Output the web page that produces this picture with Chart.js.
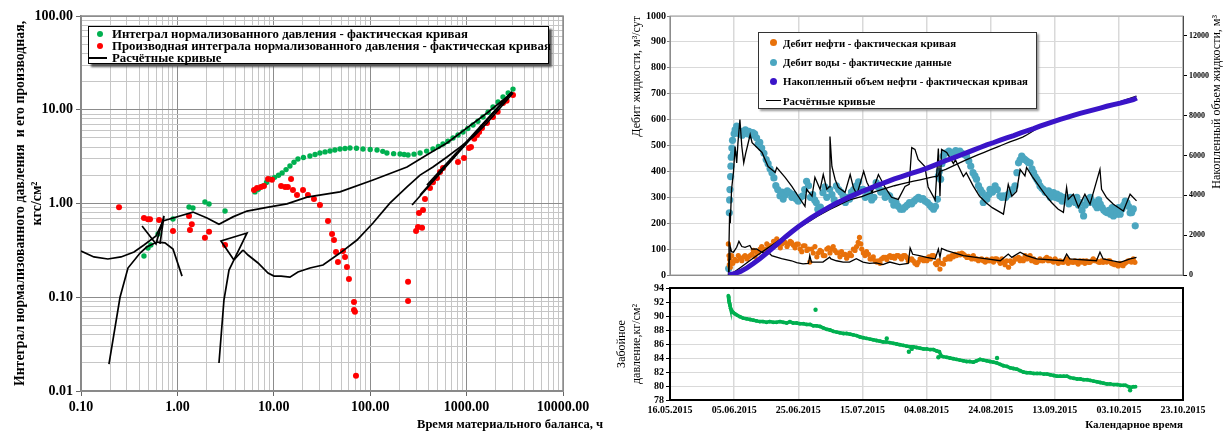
<!DOCTYPE html>
<html>
<head>
<meta charset="utf-8">
<script src="https://cdn.jsdelivr.net/npm/chart.js@4.4.1/dist/chart.umd.min.js"></script>
<style>
  body { margin:0; background:#fff; width:1227px; height:432px; overflow:hidden; position:relative; font-family:"Liberation Serif", serif; }
  canvas { position:absolute; }
  #c1 { left:0; top:0; }
  #c2 { left:610px; top:0; }
  #c3 { left:610px; top:280px; }
  .lg { position:absolute; background:#fff; border:1px solid #000; font-weight:bold; color:#000; box-sizing:border-box; }
  .lg .row { display:flex; align-items:center; white-space:nowrap; }
  .lg .mk { display:inline-block; flex:none; position:relative; height:100%; }
  .lg i { position:absolute; top:50%; display:block; }
  #lg1 { left:88px; top:26px; width:461px; height:38px; font-size:12.8px; padding-top:1px; box-shadow:3px 3px 2px #555; }
  #lg1 .row { height:12px; }
  #lg1 .mk { width:23px; }
  #lg1 i.dot { width:6px; height:6px; border-radius:50%; left:8px; margin-top:-3px; }
  #lg1 i.ln { width:19px; height:2px; left:-1px; margin-top:-1px; }
  #lg2 { left:758px; top:32px; width:279px; height:77px; font-size:10.8px; border-color:#333; box-shadow:2px 2px 2px #999; }
  #lg2 .row { height:19.4px; }
  #lg2 .mk { width:24px; }
  #lg2 i.dot { width:7px; height:7px; border-radius:50%; left:11px; margin-top:-3.5px; }
  #lg2 i.ln { width:15px; height:1.5px; left:7px; margin-top:-1px; }
</style>
</head>
<body>
<canvas id="c1" width="610" height="432"></canvas>
<canvas id="c2" width="617" height="282"></canvas>
<canvas id="c3" width="617" height="152"></canvas>
<div class="lg" id="lg1"></div>
<div class="lg" id="lg2"></div>
<script>
// ---------- left chart: log-log, [time h, value] ----------
var xDecades = [0.1, 1, 10, 100, 1000, 10000]
var yDecades = [0.01, 0.1, 1, 10, 100]

var integralPts = [[0.45,0.275],[0.495,0.335],[0.53,0.361],[0.63,0.473],[0.90,0.684],[1.32,0.918],[1.45,0.896],[1.93,1.037],[2.13,0.988],[3.12,0.832],
  [6.38,1.33],[6.9,1.42],[7.73,1.54],[8.4,1.68],[9.14,1.83],[10.2,1.9],[11.2,2.0],[12.2,2.12],[13.4,2.3],[14.7,2.51],[16.2,2.75],[17.8,2.98],[20.3,3.1],[23.7,3.21],
  [26.8,3.33],[30.1,3.46],[34,3.55],[38.3,3.63],[43,3.72],[48.6,3.81],[54.8,3.86],[61.7,3.91],[72,3.88],[84.2,3.81],[100,3.77],[117.7,3.72],[135,3.6],[149,3.46],
  [175,3.4],[204,3.37],[225,3.33],[247,3.29],[285,3.36],[329,3.46],[385,3.62],[448,3.81],[510,4.05],[569,4.31],[640,4.62],[723,5.0],[815,5.38],[918,5.79],
  [1030,6.3],[1165,6.88],[1310,7.55],[1479,8.37],[1670,9.4],[1879,10.7],[2120,12.1],[2387,13.7],[2700,15.1],[3030,16.6]]

var derivPts = [[0.248,0.91],[0.45,0.70],[0.495,0.68],[0.52,0.68],[0.645,0.667],[0.90,0.51],[1.32,0.736],[1.41,0.60],[1.35,0.52],[2.13,0.50],[1.93,0.43],[3.12,0.36],
  [6.23,1.39],[6.69,1.46],[7.36,1.50],[7.91,1.54],[8.71,1.83],[9.58,1.79],[11.9,1.54],[13.1,1.50],[14.0,1.50],[15.1,1.83],[15.8,1.39],[17.4,1.23],[20.1,1.39],
  [22.6,1.23],[26.1,1.12],[30.1,0.965],[36.5,0.65],[40.2,0.473],[42.1,0.408],[44.2,0.304],[52.2,0.311],[46.3,0.238],[54.8,0.269],[57.4,0.21],[60.2,0.157],
  [67.9,0.089],[67.9,0.073],[69.5,0.070],[71.2,0.0145],
  [247,0.146],[247,0.091],[299,0.51],[313,0.56],[345,0.55],[321,0.79],[353,0.85],[370,1.12],[417,1.46],[448,1.69],[493,1.87],[530,2.17],[569,2.39],
  [814,2.77],[940,3.06],[1059,3.91],[1111,4.0],[1200,4.9],[1282,5.38],[1350,5.8],[1445,6.4],[1629,7.22],[1879,8.37],[2100,9.5],[2387,11.8],[2600,12.5],[3030,14.4]]

// computed curves
var calcA = [[0.1,0.311],[0.136,0.269],[0.19,0.256],[0.26,0.269],[0.355,0.304],[0.45,0.361],[0.6,0.45],[0.71,0.65],[0.9,0.70],[1.45,0.81],[2.03,0.70],[2.7,0.60],
  [3.77,0.72],[5.27,0.83],[8.5,0.91],[13.7,0.99],[22.1,1.17],[48.6,1.33],[107,1.78],[241,2.45],[417,3.46],[626,4.42],[1009,6.4],[1629,9.24],[2624,13.7],[2960,15.5]]
var calcB = [[0.195,0.0194],[0.254,0.10],[0.307,0.205],[0.41,0.296],[0.48,0.343],[0.614,0.388],[0.743,0.38],[0.90,0.327],[1.117,0.168]]
var calcC = [[0.43,0.575],[0.60,0.37],[0.726,0.736],[0.66,0.37]]
var calcD = [[2.70,0.0199],[3.04,0.0935],[3.43,0.195],[3.86,0.25],[4.79,0.319]]
var calcT = [[3.86,0.25],[2.83,0.398],[5.27,0.484],[3.86,0.25]]
var calcE = [[4.79,0.319],[5.4,0.282],[6.86,0.232],[8.71,0.181],[10.05,0.168],[11.9,0.168],[14.7,0.164],[17.8,0.186],[23.7,0.205],[32.4,0.221],[48.6,0.296],
  [73,0.408],[107,0.62],[160,1.01],[241,1.50],[329,2.01],[448,2.45],[626,3.13],[855,4.0],[1165,5.12],[1629,7.22],[2624,12.7],[3030,15.1]]
var calcF1 = [[272,0.964],[2960,15.5]]
var calcF2 = [[329,1.23],[2900,15.2]]
var calcF3 = [[388,1.57],[2800,14.6]]

// ---------- right charts: x = days since 16.05.2015 ----------
var dateLabels = ['16.05.2015','05.06.2015','25.06.2015','15.07.2015','04.08.2015','24.08.2015','13.09.2015','03.10.2015','23.10.2015']
var rateTicks = [0,100,200,300,400,500,600,700,800,900,1000]
var volTicks = [0,2000,4000,6000,8000,10000,12000]
var pressTicks = [78,80,82,84,86,88,90,92,94]

var oilPts = [[18.2,120],[18.4,75],[18.5,40],[18.6,60],[18.8,30],[19.0,50],[19.2,75],[19.6,45],[20.2,60],[20.8,55],[21.3,75],[21.9,65],[22.4,55],[23.0,70],
  [23.4,75],[24.0,62],[24.5,70],[25.0,75],[25.5,80],[26.0,95],[26.5,70],[27.0,88],[27.5,86],[28.1,100],[28.6,110],[29.1,95],[29.6,100],[30.2,120],[30.7,105],
  [31.2,113],[31.7,113],[32.3,130],[32.8,115],[33.3,140],[33.8,119],[34.4,105],[34.9,120],[35.4,126],[35.9,126],[36.5,110],[37.0,120],[37.5,130],[37.9,126],
  [38.5,115],[39.0,105],[39.5,119],[40.0,119],[40.6,100],[41.1,90],[41.6,113],[42.1,113],[42.7,95],[43.2,100],[43.6,50],[44.2,100],[44.7,85],[45.2,110],
  [45.8,70],[46.3,86],[46.8,95],[47.3,90],[47.8,75],[48.3,75],[48.9,100],[49.4,105],[49.9,85],[50.4,100],[50.9,110],[51.4,95],[52.0,86],[52.5,86],[53.0,70],
  [53.5,90],[54.0,80],[54.6,80],[55.1,65],[55.6,75],[56.1,85],[56.6,75],[57.2,100],[57.7,95],[58.2,110],[58.7,126],[59.1,145],[59.5,120],[59.8,100],[60.3,85],
  [60.8,75],[61.3,90],[61.9,80],[62.4,62],[62.9,62],[63.4,70],[64.0,55],[64.5,50],[65.0,55],[65.5,45],[66.0,62],[66.6,68],[67.1,68],[67.6,60],[68.1,70],
  [68.6,75],[69.1,68],[69.6,72],[70.1,65],[70.7,75],[71.2,75],[71.7,70],[72.2,62],[72.8,75],[73.3,75],[73.8,68],[74.3,55],[74.9,60],[75.4,62],[75.9,55],
  [76.4,45],[77.0,40],[77.4,49],[78.0,62],[78.5,60],[79.1,55],[79.6,62],[80.1,55],[80.7,70],[81.2,62],[81.7,75],[82.2,75],[82.8,45],[83.2,40],[83.7,55],
  [84.2,23],[84.7,45],[85.3,42],[85.8,60],[86.4,62],[86.9,70],[87.4,62],[87.9,75],[88.4,70],[88.9,80],[89.4,75],[90.0,82],[90.5,78],[91.0,85],[91.5,81],
  [92.0,75],[92.6,68],[93.1,72],[93.6,68],[94.1,62],[94.6,75],[95.2,62],[95.7,62],[96.2,55],[96.7,60],[97.2,62],[97.7,55],[98.3,50],[98.8,60],[99.3,55],
  [99.8,55],[100.4,62],[100.9,50],[101.4,62],[101.9,62],[102.5,55],[103.0,45],[103.5,62],[104.0,49],[104.5,40],[105.0,55],[105.6,30],[106.1,55],[106.6,45],
  [107.1,50],[107.6,62],[108.1,62],[108.7,68],[109.2,55],[109.7,62],[110.2,55],[110.8,75],[111.3,62],[111.8,68],[112.3,75],[112.8,55],[113.4,62],[113.9,50],
  [114.4,49],[114.9,55],[115.4,62],[115.9,55],[116.4,55],[117.0,62],[117.5,68],[118.0,55],[118.5,62],[119.0,55],[119.6,50],[120.1,62],[120.6,55],[121.1,45],
  [121.7,55],[122.2,50],[122.7,49],[123.2,55],[123.7,62],[124.2,45],[124.7,55],[125.3,50],[125.8,49],[126.3,55],[126.8,49],[127.3,42],[127.9,55],[128.4,50],
  [128.9,55],[129.4,45],[129.9,55],[130.5,49],[131.0,49],[131.5,55],[132.0,62],[132.5,55],[133.0,55],[133.6,50],[134.1,49],[134.6,55],[135.1,49],[135.6,55],
  [136.2,50],[136.7,55],[137.2,55],[137.7,45],[138.2,42],[138.8,40],[139.3,42],[139.8,35],[140.3,45],[140.9,40],[141.3,36],[141.9,45],[142.4,50],[142.9,55],
  [143.4,55],[143.9,50],[144.5,62],[145.0,49]]

var waterPts = [[18.3,25],[18.5,240],[18.6,290],[18.7,330],[18.9,380],[19.0,420],[19.1,455],[19.3,490],[19.5,520],[19.8,470],[20.0,545],[20.3,560],[20.8,575],
  [21.2,560],[21.6,545],[22.0,555],[22.5,540],[23.0,550],[23.5,560],[24.0,545],[24.6,555],[25.2,540],[25.8,550],[26.4,545],[27.0,530],[27.5,505],[28.0,512],
  [28.6,490],[29.3,470],[30.0,446],[30.6,430],[31.2,410],[31.8,395],[32.4,375],[33.0,345],[33.6,330],[34.3,306],[34.9,320],[35.3,293],[36.0,310],[36.6,325],
  [37.3,318],[38.0,300],[38.6,310],[39.4,293],[40.0,285],[40.7,300],[41.4,306],[42.0,330],[42.6,362],[43.2,345],[43.8,300],[44.5,310],[45.1,290],[45.6,280],
  [46.1,254],[46.9,262],[47.7,318],[48.3,340],[48.9,300],[49.8,331],[50.5,310],[51.2,290],[51.9,344],[52.6,330],[53.3,320],[54.0,306],[54.7,280],[55.3,300],
  [56.0,293],[56.6,320],[57.3,330],[58.1,344],[58.8,360],[59.5,330],[60.2,331],[60.9,300],[61.6,310],[62.2,318],[62.9,290],[63.6,300],[64.3,357],[65.0,340],
  [65.7,320],[66.4,325],[67.1,300],[67.8,310],[68.5,306],[69.2,290],[69.8,270],[70.5,280],[71.2,265],[71.9,254],[72.6,254],[73.3,262],[74.0,270],[74.7,280],
  [75.4,275],[76.1,285],[76.8,293],[77.5,300],[78.2,292],[78.9,295],[79.6,285],[80.3,280],[81.0,270],[81.6,262],[82.2,254],[82.8,265],[83.4,292],[83.7,383],
  [84.0,400],[84.4,370],[84.8,430],[85.2,459],[85.6,470],[86.3,472],[87.0,478],[87.7,470],[88.4,472],[89.1,480],[89.8,475],[90.4,478],[91.1,470],[91.8,465],
  [92.5,459],[93.2,440],[93.8,420],[94.5,395],[95.1,383],[95.6,370],[96.2,345],[96.8,330],[97.4,318],[97.7,280],[98.2,300],[98.8,292],[99.4,310],[99.8,331],
  [100.6,320],[101.4,344],[102.1,330],[102.9,306],[103.5,300],[104.0,306],[104.7,300],[105.4,310],[106.1,318],[106.8,330],[107.6,344],[108.2,395],[108.7,433],
  [109.2,445],[109.7,459],[110.2,450],[110.7,446],[111.3,440],[111.8,433],[112.3,433],[112.9,410],[113.4,395],[113.9,380],[114.4,370],[114.9,360],[115.4,344],
  [116.0,335],[116.5,330],[117.0,320],[117.5,318],[118.1,325],[118.6,300],[119.1,310],[119.6,318],[120.2,300],[120.7,312],[121.2,295],[121.7,306],[122.3,285],
  [122.8,300],[123.3,292],[123.8,292],[124.4,275],[124.9,300],[125.4,285],[125.8,292],[126.4,280],[126.9,300],[127.4,270],[127.9,280],[128.5,250],[129.0,228],
  [129.5,270],[130.0,292],[130.6,280],[131.1,300],[131.6,285],[132.1,280],[132.7,270],[133.2,260],[133.7,290],[134.2,274],[134.8,260],[135.3,250],[135.8,245],
  [136.3,241],[136.9,250],[137.4,235],[137.9,260],[138.3,228],[138.9,245],[139.4,235],[139.9,260],[140.4,235],[141.0,255],[141.5,270],[142.0,285],[142.5,280],
  [143.0,265],[143.5,240],[144.0,241],[144.5,255],[145.1,190]]

var cumPts = [[18.2,0],[20,60],[22,180],[24,360],[26,580],[28,820],[30,1080],[32,1350],[34,1630],[36,1910],[38,2170],[40,2420],[42,2650],[44,2870],[46,3070],
  [48,3260],[50,3440],[52,3610],[54,3770],[56,3920],[58,4060],[60,4200],[62,4330],[64,4460],[66,4580],[68,4700],[70,4820],[72,4930],[74,5040],[76,5140],
  [78,5240],[80,5350],[82,5480],[84,5610],[86.3,5760],[88.4,5880],[90.5,6010],[92.6,6140],[94.6,6270],[96.7,6400],[98.8,6530],[101,6650],[103,6770],[105,6880],
  [107.2,7000],[109.2,7120],[111.3,7240],[113.4,7350],[115.4,7470],[117.5,7590],[119.6,7700],[121.7,7810],[123.8,7910],[125.8,8010],[127.9,8110],[130,8200],
  [132.1,8290],[134.2,8380],[136.2,8470],[138.3,8550],[140.4,8630],[142.5,8720],[144.5,8800],[145.6,8880]]

var calcWater = [[18.2,0],[18.4,120],[18.6,240],[18.8,200],[19.2,330],[19.8,397],[20.3,496],[20.8,433],[21.2,511],[21.8,600],[22.4,496],[23.0,433],[23.6,470],
  [24.2,500],[25.0,542],[25.6,511],[28.7,473],[30.6,419],[32.8,396],[33.3,415],[35.9,377],[38.0,342],[40.0,304],[42.1,265],[42.6,331],[44.3,304],[45.2,377],
  [46.8,331],[47.8,388],[48.9,331],[49.6,340],[49.9,535],[50.5,419],[51.5,369],[52.5,338],[54.6,319],[56.2,388],[57.2,338],[58.3,311],[60.4,400],[61.4,358],
  [63.0,319],[65.0,388],[67.1,338],[69.1,300],[71.2,292],[73.3,342],[74.6,350],[75.4,492],[76.4,485],[77.4,446],[79.5,419],[80.5,340],[82.7,290],[83.7,488],
  [84.2,304],[84.7,485],[86.3,473],[88.4,430],[89.0,445],[91.5,380],[92.4,395],[94.5,345],[96.5,305],[98.5,280],[100.5,260],[104.0,235],[105.5,350],[106.6,304],
  [108.1,323],[109.2,408],[110.7,383],[111.2,415],[113,380],[115,345],[117,310],[119,280],[121,255],[122.7,242],[123.7,338],[124.2,292],[125.8,312],[127.4,261],
  [129.4,312],[131.0,273],[134.1,408],[134.6,331],[136.2,298],[138.3,273],[141.4,247],[143.5,312],[145.5,286]]

var calcOil = [[18.2,0],[18.5,60],[18.7,114],[19.2,90],[19.8,88],[20.8,107],[21.5,130],[22.4,110],[23.4,107],[24.9,114],[25.5,100],[27.0,101],[28.7,87],
  [31.2,82],[31.7,75],[34.8,63],[37.9,55],[39.5,48],[41.5,43],[43.2,45],[43.6,75],[44.1,50],[47.7,50],[49.8,69],[50.2,62],[51.9,55],[54.0,50],[56.0,50],
  [58.1,63],[60.2,50],[62.2,45],[64.3,47],[66.4,40],[68.5,50],[71.6,40],[74.3,45],[74.9,104],[75.7,80],[77.8,75],[80,68],[82.7,62],[83.7,100],[84.2,68],
  [84.7,103],[86.3,94],[91.5,75],[98.8,62],[103,55],[105.5,81],[106.6,68],[109.2,88],[111.2,75],[114.4,62],[122.7,55],[123.7,81],[124.7,62],[133,55],
  [134.1,88],[135.1,62],[140.4,49],[143.5,62],[145.5,68]]

var calcCum = [[18.2,0],[20,150],[22,380],[24,620],[26,850],[28,1080],[30,1300],[32,1520],[34,1740],[36,1950],[38,2150],[40,2350],[42,2550],[44,2750],[46,2950],
  [48,3130],[50,3300],[52,3460],[54,3620],[56,3770],[58,3860],[60,3950],[62,4070],[64,4180],[66,4290],[68,4390],[70,4480],[72,4560],[74,4640],[76,4710],
  [78,4780],[80,4850],[82,4920],[83.5,4960],[84.2,5200],[86,5300],[88,5450],[90,5600],[92,5750],[94,5890],[96,6030],[98,6160],[100,6290],[102,6420],[104,6550],
  [106,6680],[108,6800],[110,6920],[111.5,7050],[115,7400],[120,7700],[125,7970],[130,8220],[135,8450],[140,8680],[145.5,8980]]

var pressPts = [[18.2,92.9],[18.3,92.6],[18.4,92.2],[18.5,91.9],[18.7,91.5],[18.9,91.1],[19.2,90.8],[19.7,90.5],[20.3,90.3],[21.0,90.1],[21.8,89.9],[22.8,89.7],
  [23.9,89.6],[25.0,89.5],[26.0,89.4],[27.0,89.3],[28.0,89.2],[29.0,89.2],[30.1,89.1],[31.1,89.2],[32.2,89.1],[33.2,89.1],[34.3,89.2],[35.3,89.1],[36.4,89.0],
  [37.4,89.2],[38.4,89.0],[39.5,89.0],[40.5,88.9],[41.6,88.9],[42.6,88.8],[43.7,88.8],[44.7,88.6],[45.7,88.6],[46.8,88.5],[47.8,88.3],[48.9,88.1],[49.9,88.0],
  [51.0,87.8],[52.0,87.7],[53.0,87.6],[54.1,87.5],[55.1,87.5],[56.2,87.4],[57.2,87.3],[58.2,87.2],[59.3,87.0],[60.3,86.9],[61.3,86.8],[62.4,86.7],[63.4,86.6],
  [64.4,86.5],[65.5,86.4],[66.5,86.3],[67.5,86.3],[68.6,86.2],[69.6,86.1],[70.7,86.0],[71.7,85.9],[72.8,85.8],[73.8,85.7],[74.9,85.6],[75.9,85.6],[76.9,85.5],
  [78.0,85.4],[79.1,85.3],[80.1,85.3],[81.1,85.2],[82.2,85.2],[83.2,85.0],[84.0,84.9],[84.6,84.3],[85.2,84.2],[86.3,84.1],[87.3,84.0],[88.4,83.9],[89.4,83.8],
  [90.4,83.7],[91.5,83.6],[92.5,83.5],[93.5,83.5],[94.6,83.4],[95.6,83.6],[96.7,83.8],[97.7,83.7],[98.8,83.6],[99.8,83.5],[100.9,83.4],[101.9,83.3],[103.0,83.1],
  [104.0,82.9],[105.1,82.8],[106.1,82.6],[107.1,82.5],[108.2,82.4],[109.2,82.2],[110.2,82.0],[111.3,81.9],[112.3,81.9],[113.4,81.8],[114.5,81.8],[115.5,81.8],
  [116.6,81.7],[117.6,81.7],[118.6,81.6],[119.7,81.5],[120.7,81.4],[121.7,81.4],[122.8,81.4],[123.8,81.4],[124.8,81.2],[125.9,81.1],[127.0,81.0],[128.0,81.0],
  [129.0,80.9],[130.1,80.9],[131.1,80.8],[132.1,80.7],[133.2,80.6],[134.2,80.5],[135.2,80.4],[136.3,80.3],[137.3,80.3],[138.4,80.2],[139.5,80.2],[140.5,80.1],
  [141.5,80.1],[142.1,80.1],[143.0,79.9],[143.7,79.8],[144.5,79.9],[145.2,79.9]]
var pressOutliers = [[45.4,90.9],[67.6,86.8],[74.5,84.9],[75.4,85.3],[83.7,84.1],[102.0,84.0],[143.5,79.4]]

// ---------- helpers ----------
function toXY(arr) { return arr.map(function(p){ return {x:p[0], y:p[1]} }) }
function toTicks(arr) { return arr.map(function(v){ return {value:v} }) }
function logTicks(dec) {
  var t = []
  dec.forEach(function(d, i){
    if (i < dec.length - 1) { for (var m = 1; m < 10; m++) t.push({value: +(m*d).toPrecision(6)}) }
    else t.push({value: d})
  })
  return t
}
function isDecade(v) { var l = Math.log10(v); return Math.abs(l - Math.round(l)) < 1e-6 }
function framePlugin(color, width) {
  return { id:'frame', beforeDatasetsDraw: function(chart){
    var a = chart.chartArea, ctx = chart.ctx
    ctx.save(); ctx.strokeStyle = color; ctx.lineWidth = width
    ctx.strokeRect(a.left, a.top, a.right - a.left, a.bottom - a.top)
    ctx.restore()
  }}
}
function textPlugin(items) {
  return { id:'texts', afterDraw: function(chart){
    var ctx = chart.ctx
    items.forEach(function(t){
      ctx.save(); ctx.font = t.font; ctx.fillStyle = '#000'; ctx.textAlign = t.align; ctx.textBaseline = 'middle'
      ctx.translate(t.x, t.y); if (t.rot) ctx.rotate(t.rot)
      ctx.fillText(t.text, 0, 0); ctx.restore()
    })
  }}
}
function htmlLegend(chart, el) {
  chart.data.datasets.forEach(function(d){
    if (!d.label) return
    var row = document.createElement('div'); row.className = 'row'
    var mk = document.createElement('span'); mk.className = 'mk'
    var sw = document.createElement('i')
    if (d.mark === 'line') { sw.className = 'ln'; sw.style.background = d.borderColor }
    else { sw.className = 'dot'; sw.style.background = d.pointBackgroundColor }
    mk.appendChild(sw); row.appendChild(mk)
    var tx = document.createElement('span'); tx.textContent = d.label; row.appendChild(tx)
    el.appendChild(row)
  })
}
var SERIF = '"Liberation Serif", "Times New Roman", serif'
Chart.defaults.font.family = SERIF
Chart.defaults.color = '#000'
var plain = function(v){ return String(v) }

function calcLine(arr, first) {
  return { label: first ? 'Расчётные кривые' : undefined, mark:'line', data: toXY(arr), showLine:true,
    borderColor:'#000', borderWidth:1.7, pointRadius:0, order:0 }
}

// ---------- chart 1 ----------
var chart1 = new Chart(document.getElementById('c1'), {
  type:'scatter',
  data:{ datasets:[
    { label:'Интеграл нормализованного давления - фактическая кривая', mark:'dot', data:toXY(integralPts),
      pointRadius:2.7, pointBackgroundColor:'#00b050', pointBorderWidth:0, order:2 },
    { label:'Производная интеграла нормализованного давления - фактическая кривая', mark:'dot', data:toXY(derivPts),
      pointRadius:3, pointBackgroundColor:'#ff0000', pointBorderWidth:0, order:1 },
    calcLine(calcA, true), calcLine(calcB), calcLine(calcC), calcLine(calcD), calcLine(calcT), calcLine(calcE),
    calcLine(calcF1), calcLine(calcF2), calcLine(calcF3)
  ]},
  options:{
    responsive:false, animation:false, events:[],
    layout:{ padding:{ top:16, right:47, left:0, bottom:0 } },
    plugins:{ legend:{display:false}, tooltip:{enabled:false} },
    scales:{
      x:{ type:'logarithmic', min:0.1, max:10000,
        afterBuildTicks:function(s){ s.ticks = logTicks(xDecades) },
        afterFit:function(s){ s.height = 41 },
        grid:{ color:function(c){ return isDecade(c.tick.value) ? '#8c8c8c' : '#c6c6c6' }, lineWidth:1, tickLength:5,
          tickColor:function(c){ return isDecade(c.tick.value) ? '#666' : 'rgba(0,0,0,0)' } },
        border:{ color:'#7f7f7f', width:1.5 },
        ticks:{ autoSkip:false, maxRotation:0, padding:3, font:{ size:14, weight:'bold' },
          callback:function(v){ return isDecade(v) ? v.toFixed(2) : '' } }
      },
      y:{ type:'logarithmic', min:0.01, max:100,
        afterBuildTicks:function(s){ s.ticks = logTicks(yDecades) },
        afterFit:function(s){ s.width = 81 },
        grid:{ color:function(c){ return isDecade(c.tick.value) ? '#8c8c8c' : '#c6c6c6' }, lineWidth:1, tickLength:5,
          tickColor:function(c){ return isDecade(c.tick.value) ? '#666' : 'rgba(0,0,0,0)' } },
        border:{ color:'#7f7f7f', width:1.5 },
        ticks:{ autoSkip:false, padding:3, font:{ size:14, weight:'bold' },
          callback:function(v){ return isDecade(v) ? v.toFixed(2) : '' } },
        title:{ display:true, text:['Интеграл нормализованного давления  и его производная,', 'кгс/см²'],
          font:{ size:13.8, weight:'bold', lineHeight:1.25 }, padding:{ top:12, bottom:0 } }
      }
    }
  },
  plugins:[ framePlugin('#8c8c8c', 1.5),
    textPlugin([{ text:'Время материального баланса, ч', x:603, y:425, align:'right', font:'bold 12.5px ' + SERIF }]) ]
})
htmlLegend(chart1, document.getElementById('lg1'))

// ---------- chart 2 ----------
function calcLine2(arr, axis, first) {
  return { label: first ? 'Расчётные кривые' : undefined, mark:'line', data: toXY(arr), showLine:true,
    borderColor:'#000', borderWidth:1.3, pointRadius:0, yAxisID:axis, order:1 }
}
var chart2 = new Chart(document.getElementById('c2'), {
  type:'scatter',
  data:{ datasets:[
    { label:'Дебит нефти - фактическая кривая', mark:'dot', data:toXY(oilPts), pointRadius:2.6,
      pointBackgroundColor:'#e8710a', pointBorderWidth:0, yAxisID:'y', order:3 },
    { label:'Дебит воды - фактические данные', mark:'dot', data:toXY(waterPts), pointRadius:3.6,
      pointBackgroundColor:'#4ba6c0', pointBorderWidth:0, yAxisID:'y', order:4 },
    { label:'Накопленный объем нефти - фактическая кривая', mark:'dot', data:toXY(cumPts), showLine:true,
      borderColor:'#3a14c8', borderWidth:5, pointRadius:0, pointBackgroundColor:'#3a14c8', yAxisID:'y2', order:0 },
    calcLine2(calcWater, 'y', true), calcLine2(calcOil, 'y'), calcLine2(calcCum, 'y2')
  ]},
  options:{
    responsive:false, animation:false, events:[],
    layout:{ padding:{ top:16, right:0, left:0, bottom:6 } },
    plugins:{ legend:{display:false}, tooltip:{enabled:false} },
    scales:{
      x:{ type:'linear', min:0, max:160, afterFit:function(s){ s.height = 0 },
        ticks:{ display:false, stepSize:20 },
        grid:{ color:'#d9d9d9', lineWidth:1.5, drawTicks:false },
        border:{ color:'#7f7f7f', width:1 } },
      y:{ min:0, max:1000, afterFit:function(s){ s.width = 60 },
        afterBuildTicks:function(s){ s.ticks = toTicks(rateTicks) },
        ticks:{ autoSkip:false, padding:1, font:{ size:10, weight:'bold' }, callback:plain },
        grid:{ color:'#d9d9d9', lineWidth:1, tickLength:3, tickColor:'#7f7f7f' },
        border:{ color:'#7f7f7f', width:1 },
        title:{ display:true, text:'Дебит жидкости, м³/сут', align:'end', font:{ size:12 }, padding:{ top:20, bottom:0 } } },
      y2:{ position:'right', min:0, max:13000, afterFit:function(s){ s.width = 44 },
        afterBuildTicks:function(s){ s.ticks = toTicks(volTicks) },
        ticks:{ autoSkip:false, padding:2, font:{ size:8, weight:'bold' }, callback:plain },
        grid:{ drawOnChartArea:false, tickLength:4, tickColor:'#000' },
        border:{ color:'#000', width:1 } }
    }
  },
  plugins:[ framePlugin('#9a9a9a', 1),
    textPlugin([{ text:'Накопленный объем жидкости, м³', x:607, y:15, rot:-Math.PI/2, align:'right', font:'12px ' + SERIF }]) ]
})
htmlLegend(chart2, document.getElementById('lg2'))

// ---------- chart 3 ----------
var chart3 = new Chart(document.getElementById('c3'), {
  type:'scatter',
  data:{ datasets:[
    { data:toXY(pressOutliers), pointRadius:2.2, pointBackgroundColor:'#00b050', pointBorderWidth:0, order:0 },
    { data:toXY(pressPts), showLine:true, borderColor:'#00b050', borderWidth:3.5, pointRadius:1.9,
      pointBackgroundColor:'#00b050', pointBorderWidth:0, order:1 }
  ]},
  options:{
    responsive:false, animation:false, events:[],
    layout:{ padding:{ top:7, right:44, left:0, bottom:0 } },
    plugins:{ legend:{display:false}, tooltip:{enabled:false} },
    scales:{
      x:{ type:'linear', min:0, max:160, afterFit:function(s){ s.height = 32 },
        ticks:{ stepSize:20, padding:4, maxRotation:0, autoSkip:false, font:{ size:10, weight:'bold' },
          callback:function(v){ return dateLabels[Math.round(v/20)] } },
        grid:{ color:'#d9d9d9', lineWidth:1.5, drawTicks:false },
        border:{ color:'#000', width:2 },
        title:{ display:true, text:'Календарное время', align:'end', font:{ size:11, weight:'bold' }, padding:{ top:0, bottom:0 } } },
      y:{ min:78, max:94, afterFit:function(s){ s.width = 60 },
        afterBuildTicks:function(s){ s.ticks = toTicks(pressTicks) },
        ticks:{ autoSkip:false, padding:2, font:{ size:10, weight:'bold' }, callback:plain },
        grid:{ color:'#d9d9d9', lineWidth:1, tickLength:4, tickColor:'#000' },
        border:{ color:'#000', width:2 },
        title:{ display:true, text:['Забойное', 'давление,кг/см²'], font:{ size:12, lineHeight:1.25 }, padding:{ top:4, bottom:0 } } }
    }
  },
  plugins:[ framePlugin('#000', 2) ]
})
</script>
</body>
</html>
